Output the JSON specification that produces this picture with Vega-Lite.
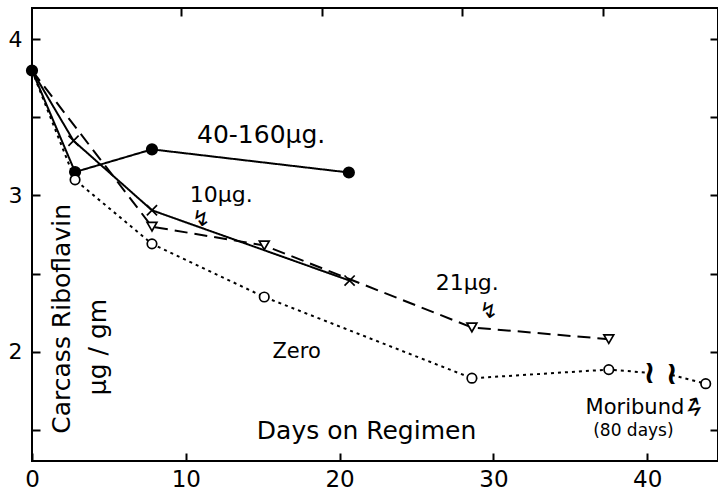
{
  "$schema": "https://vega.github.io/schema/vega-lite/v6.json",
  "width": 686,
  "height": 453,
  "autosize": {"type": "none"},
  "padding": {"left": 32, "top": 8, "right": 0, "bottom": 33},
  "background": "white",
  "config": {
    "view": {"stroke": "black", "strokeWidth": 2},
    "font": "DejaVu Sans",
    "axis": {"grid": false, "domain": false, "title": null, "tickColor": "black", "tickWidth": 2, "labelColor": "black", "labelFont": "DejaVu Sans"}
  },
  "datasets": {
    "curves": [
      {"series": "40-160", "day": 0, "value": 3.8, "seg": "a", "marker": true},
      {"series": "40-160", "day": 2.8, "value": 3.15, "seg": "a", "marker": true},
      {"series": "40-160", "day": 7.8, "value": 3.295, "seg": "a", "marker": true},
      {"series": "40-160", "day": 20.6, "value": 3.147, "seg": "a", "marker": true},
      {"series": "10", "day": 0, "value": 3.8, "seg": "a", "marker": false},
      {"series": "10", "day": 2.7, "value": 3.35, "seg": "a", "marker": true},
      {"series": "10", "day": 7.8, "value": 2.905, "seg": "a", "marker": true},
      {"series": "10", "day": 20.65, "value": 2.455, "seg": "a", "marker": true},
      {"series": "21", "day": 0, "value": 3.8, "seg": "a", "marker": false},
      {"series": "21", "day": 7.8, "value": 2.8, "seg": "a", "marker": true},
      {"series": "21", "day": 15.1, "value": 2.68, "seg": "a", "marker": true},
      {"series": "21", "day": 28.6, "value": 2.155, "seg": "a", "marker": true},
      {"series": "21", "day": 37.5, "value": 2.08, "seg": "a", "marker": true},
      {"series": "zero", "day": 0, "value": 3.8, "seg": "a", "marker": false},
      {"series": "zero", "day": 2.8, "value": 3.1, "seg": "a", "marker": true},
      {"series": "zero", "day": 7.8, "value": 2.69, "seg": "a", "marker": true},
      {"series": "zero", "day": 15.1, "value": 2.35, "seg": "a", "marker": true},
      {"series": "zero", "day": 28.6, "value": 1.83, "seg": "a", "marker": true},
      {"series": "zero", "day": 37.5, "value": 1.885, "seg": "a", "marker": true},
      {"series": "zero", "day": 40.1, "value": 1.865, "seg": "a", "marker": false},
      {"series": "zero", "day": 41.6, "value": 1.85, "seg": "b", "marker": false},
      {"series": "zero", "day": 43.8, "value": 1.795, "seg": "b", "marker": true}
    ],
    "notes": [
      {"text": "40-160µg.", "day": 14.9, "value": 3.385},
      {"text": "10µg.", "day": 12.3, "value": 3.0},
      {"text": "21µg.", "day": 28.3, "value": 2.44},
      {"text": "Zero", "day": 17.2, "value": 2.0},
      {"text": "Moribund", "day": 39.2, "value": 1.64},
      {"text": "(80 days)", "day": 39.1, "value": 1.49},
      {"text": "Days on Regimen", "day": 21.75, "value": 1.49},
      {"text": "Carcass Riboflavin", "day": 1.95, "value": 2.21},
      {"text": "µg / gm", "day": 4.3, "value": 2.03}
    ],
    "arrows": [
      {"label": "10", "day": 11.0, "value": 2.85},
      {"label": "21", "day": 29.7, "value": 2.26}
    ],
    "breaks": [
      {"day": 40.15, "value": 1.865},
      {"day": 41.6, "value": 1.855}
    ]
  },
  "layer": [
    {
      "data": {"name": "curves"},
      "mark": {"type": "line", "color": "black", "strokeWidth": 2},
      "encoding": {
        "x": {"field": "day", "type": "quantitative", "scale": {"domain": [0, 44.6], "nice": false, "zero": false},
              "axis": {"orient": "bottom", "values": [0, 10, 20, 30, 40], "format": "d", "tickSize": -8, "labelPadding": 15, "labelFontSize": 23, "labelFlush": false}},
        "y": {"field": "value", "type": "quantitative", "scale": {"domain": [1.3, 4.2], "nice": false, "zero": false},
              "axis": {"orient": "left", "values": [1.5, 2, 2.5, 3, 3.5, 4], "tickSize": -8, "labelPadding": 18, "labelFontSize": 22, "labelFlush": false,
                       "labelExpr": "datum.value % 1 == 0 ? format(datum.value, 'd') : ''"}},
        "detail": {"field": "seg"},
        "strokeDash": {"field": "series", "type": "nominal", "legend": null,
                       "scale": {"domain": ["40-160", "10", "21", "zero"], "range": [[1, 0], [1, 0], [13, 7], [3, 4]]}}
      }
    },
    {
      "data": {"name": "curves"},
      "transform": [{"filter": "datum.marker"}],
      "mark": {"type": "point", "filled": true, "stroke": "black", "strokeWidth": 1.7, "opacity": 1},
      "encoding": {
        "x": {"field": "day", "type": "quantitative", "scale": {"domain": [0, 44.6], "nice": false, "zero": false},
              "axis": {"orient": "top", "values": [9.7, 18.85, 27.95, 37.1], "tickSize": -8, "labels": false}},
        "y": {"field": "value", "type": "quantitative", "scale": {"domain": [1.3, 4.2], "nice": false, "zero": false},
              "axis": {"orient": "right", "values": [1.5, 2, 2.5, 3, 3.5, 4], "tickSize": -8, "labels": false}},
        "shape": {"field": "series", "type": "nominal", "legend": null,
                  "scale": {"domain": ["40-160", "10", "21", "zero"], "range": ["circle", "M-1,-1L1,1M-1,1L1,-1", "triangle-down", "circle"]}},
        "fill": {"field": "series", "type": "nominal", "legend": null,
                 "scale": {"domain": ["40-160", "10", "21", "zero"], "range": ["black", "white", "white", "white"]}},
        "size": {"field": "series", "type": "nominal", "legend": null,
                 "scale": {"domain": ["40-160", "10", "21", "zero"], "range": [110, 90, 110, 95]}}
      }
    },
    {
      "data": {"name": "notes"},
      "transform": [{"filter": "datum.text == '40-160µg.'"}],
      "mark": {"type": "text", "fontSize": 25, "color": "black", "align": "center", "baseline": "middle"},
      "encoding": {
        "x": {"field": "day", "type": "quantitative", "axis": null},
        "y": {"field": "value", "type": "quantitative", "axis": null},
        "text": {"field": "text"}
      }
    },
    {
      "data": {"name": "notes"},
      "transform": [{"filter": "datum.text == '10µg.' || datum.text == '21µg.'"}],
      "mark": {"type": "text", "fontSize": 22, "color": "black", "align": "center", "baseline": "middle"},
      "encoding": {
        "x": {"field": "day", "type": "quantitative", "axis": null},
        "y": {"field": "value", "type": "quantitative", "axis": null},
        "text": {"field": "text"}
      }
    },
    {
      "data": {"name": "notes"},
      "transform": [{"filter": "datum.text == 'Zero' || datum.text == 'Moribund'"}],
      "mark": {"type": "text", "fontSize": 21, "color": "black", "align": "center", "baseline": "middle"},
      "encoding": {
        "x": {"field": "day", "type": "quantitative", "axis": null},
        "y": {"field": "value", "type": "quantitative", "axis": null},
        "text": {"field": "text"}
      }
    },
    {
      "data": {"name": "notes"},
      "transform": [{"filter": "datum.text == '(80 days)'"}],
      "mark": {"type": "text", "fontSize": 17, "color": "black", "align": "center", "baseline": "middle"},
      "encoding": {
        "x": {"field": "day", "type": "quantitative", "axis": null},
        "y": {"field": "value", "type": "quantitative", "axis": null},
        "text": {"field": "text"}
      }
    },
    {
      "data": {"name": "notes"},
      "transform": [{"filter": "datum.text == 'Days on Regimen'"}],
      "mark": {"type": "text", "fontSize": 25, "color": "black", "align": "center", "baseline": "middle"},
      "encoding": {
        "x": {"field": "day", "type": "quantitative", "axis": null},
        "y": {"field": "value", "type": "quantitative", "axis": null},
        "text": {"field": "text"}
      }
    },
    {
      "data": {"name": "notes"},
      "transform": [{"filter": "datum.text == 'Carcass Riboflavin' || datum.text == 'µg / gm'"}],
      "mark": {"type": "text", "fontSize": 25, "angle": 270, "color": "black", "align": "center", "baseline": "middle"},
      "encoding": {
        "x": {"field": "day", "type": "quantitative", "axis": null},
        "y": {"field": "value", "type": "quantitative", "axis": null},
        "text": {"field": "text"}
      }
    },
    {
      "data": {"name": "arrows"},
      "mark": {"type": "text", "text": "↯", "fontSize": 22, "color": "black", "align": "center", "baseline": "middle"},
      "encoding": {
        "x": {"field": "day", "type": "quantitative", "axis": null},
        "y": {"field": "value", "type": "quantitative", "axis": null}
      }
    },
    {
      "data": {"values": [{"label": "moribund", "day": 43.1, "value": 1.66}]},
      "mark": {"type": "text", "text": "↯", "fontSize": 24, "angle": 200, "color": "black", "align": "center", "baseline": "middle"},
      "encoding": {
        "x": {"field": "day", "type": "quantitative", "axis": null},
        "y": {"field": "value", "type": "quantitative", "axis": null}
      }
    },
    {
      "data": {"name": "breaks"},
      "mark": {"type": "text", "text": "≀", "fontSize": 32, "fontWeight": "bold", "color": "black", "align": "center", "baseline": "middle"},
      "encoding": {
        "x": {"field": "day", "type": "quantitative", "axis": null},
        "y": {"field": "value", "type": "quantitative", "axis": null}
      }
    }
  ],
  "resolve": {"axis": {"x": "independent", "y": "independent"}}
}
